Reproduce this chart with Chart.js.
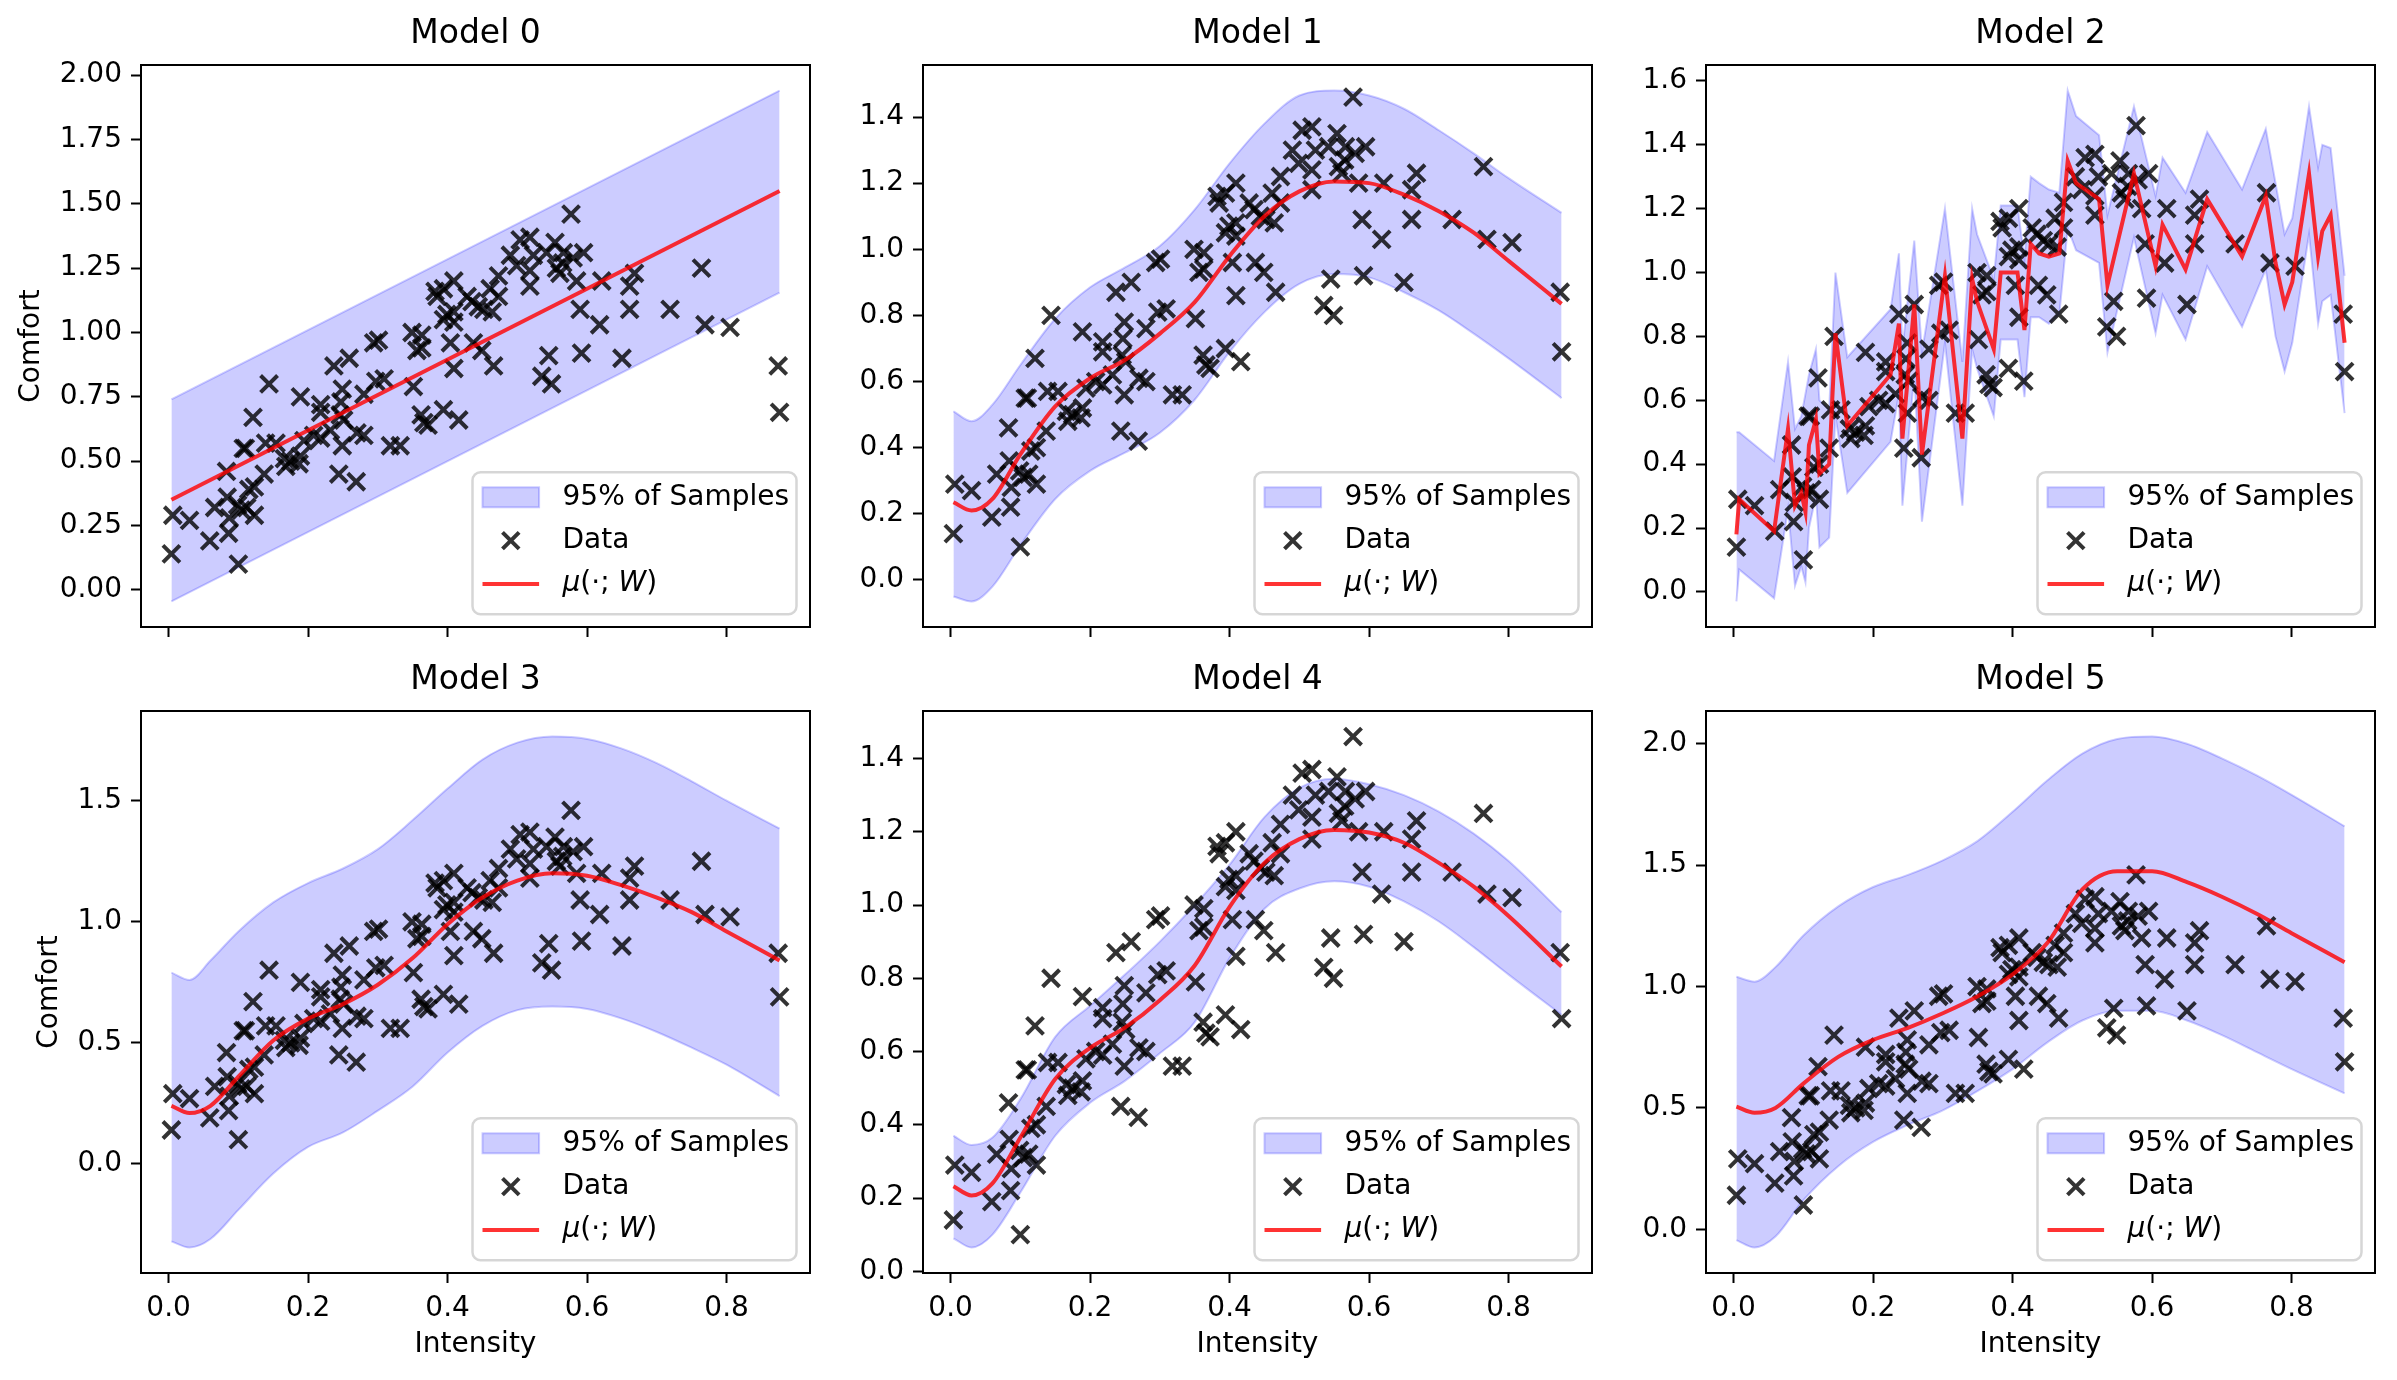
<!DOCTYPE html>
<html lang="en">
<head>
<meta charset="utf-8">
<title>Model comparison</title>
<script src="https://cdn.jsdelivr.net/npm/chart.js@4.4.1/dist/chart.umd.min.js"></script>
<style>
  html, body { margin: 0; padding: 0; background: #fff; }
  body { width: 2397px; height: 1380px; position: relative; overflow: hidden; }
  canvas { position: absolute; }
</style>
</head>
<body>
<script>
// observed data (same in every panel)
const intensity = [0.004, 0.006, 0.030, 0.059, 0.066, 0.084, 0.086, 0.087, 0.099, 0.100,
  0.104, 0.112, 0.115, 0.123, 0.123, 0.137, 0.083, 0.107, 0.110, 0.121,
  0.139, 0.144, 0.154, 0.166, 0.168, 0.175, 0.187, 0.189, 0.194, 0.208,
  0.244, 0.269, 0.249, 0.280, 0.318, 0.332, 0.237, 0.259, 0.297, 0.309,
  0.351, 0.249, 0.280, 0.247, 0.218, 0.189, 0.218, 0.246, 0.251, 0.232,
  0.218, 0.270, 0.362, 0.366, 0.372, 0.394, 0.416, 0.382, 0.394, 0.409,
  0.385, 0.428, 0.435, 0.461, 0.473, 0.518, 0.399, 0.409, 0.394, 0.409,
  0.444, 0.452, 0.464, 0.349, 0.363, 0.301, 0.294, 0.356, 0.363, 0.404,
  0.437, 0.449, 0.409, 0.466, 0.545, 0.535, 0.549, 0.577, 0.504, 0.518,
  0.554, 0.490, 0.523, 0.542, 0.566, 0.595, 0.580, 0.499, 0.518, 0.556,
  0.565, 0.473, 0.561, 0.585, 0.621, 0.668, 0.661, 0.764, 0.590, 0.661,
  0.719, 0.618, 0.769, 0.805, 0.592, 0.650, 0.874, 0.876];
const comfort = [0.14, 0.29, 0.27, 0.19, 0.32, 0.36, 0.22, 0.28, 0.33, 0.10,
  0.31, 0.32, 0.39, 0.29, 0.40, 0.45, 0.46, 0.55, 0.55, 0.67,
  0.57, 0.80, 0.57, 0.51, 0.48, 0.50, 0.49, 0.52, 0.58, 0.60,
  0.45, 0.42, 0.56, 0.60, 0.56, 0.56, 0.87, 0.90, 0.81, 0.82,
  0.79, 0.78, 0.76, 0.73, 0.72, 0.75, 0.69, 0.68, 0.66, 0.62,
  0.59, 0.61, 0.68, 0.65, 0.64, 0.70, 0.66, 1.16, 1.17, 1.20,
  1.14, 1.14, 1.12, 1.17, 1.14, 1.18, 1.07, 1.08, 1.05, 1.04,
  1.10, 1.09, 1.08, 1.00, 0.99, 0.97, 0.96, 0.93, 0.94, 0.96,
  0.96, 0.93, 0.86, 0.87, 0.91, 0.83, 0.80, 1.46, 1.36, 1.37,
  1.35, 1.30, 1.30, 1.31, 1.31, 1.31, 1.29, 1.26, 1.24, 1.25,
  1.27, 1.22, 1.23, 1.20, 1.20, 1.23, 1.18, 1.25, 1.09, 1.09,
  1.09, 1.03, 1.03, 1.02, 0.92, 0.90, 0.87, 0.69];

// prediction grid for the smooth models
const gridX = [0.004, 0.03, 0.06, 0.1, 0.15, 0.2, 0.25, 0.3, 0.35, 0.4,
  0.45, 0.5, 0.55, 0.6, 0.65, 0.7, 0.75, 0.8, 0.876];

// Model 0 (linear)
const model0X = [0.004, 0.876];
const model0Mean = [0.35, 1.55];
const model0Upper = [0.74, 1.94];
const model0Lower = [-0.045, 1.155];

// Model 1
const model1Mean = [0.235, 0.21, 0.245, 0.38, 0.525, 0.61, 0.665, 0.745, 0.84, 0.98,
  1.10, 1.175, 1.205, 1.20, 1.165, 1.115, 1.05, 0.965, 0.835];
const model1Upper = [0.51, 0.48, 0.53, 0.65, 0.79, 0.885, 0.945, 1.01, 1.12, 1.26,
  1.38, 1.465, 1.48, 1.465, 1.425, 1.36, 1.29, 1.215, 1.11];
const model1Lower = [-0.05, -0.065, -0.02, 0.105, 0.245, 0.33, 0.385, 0.445, 0.545, 0.69,
  0.81, 0.895, 0.925, 0.915, 0.87, 0.815, 0.745, 0.67, 0.55];

// Model 2 (jagged, evaluated at its own points)
const model2X = [0.004, 0.008, 0.058, 0.078, 0.088, 0.097, 0.103, 0.108, 0.118, 0.123,
  0.137, 0.146, 0.163, 0.225, 0.237, 0.242, 0.259, 0.270, 0.303, 0.328,
  0.342, 0.349, 0.373, 0.383, 0.407, 0.417, 0.426, 0.438, 0.452, 0.467,
  0.479, 0.491, 0.524, 0.536, 0.574, 0.605, 0.615, 0.648, 0.679, 0.729,
  0.763, 0.777, 0.790, 0.801, 0.825, 0.838, 0.844, 0.856, 0.876];
const model2Mean = [0.18, 0.29, 0.19, 0.51, 0.27, 0.31, 0.25, 0.46, 0.54, 0.37,
  0.40, 0.81, 0.52, 0.68, 0.84, 0.48, 0.90, 0.43, 0.99, 0.48,
  0.98, 0.91, 0.76, 1.00, 1.00, 0.82, 1.09, 1.06, 1.05, 1.06,
  1.35, 1.28, 1.23, 0.96, 1.31, 1.02, 1.15, 1.01, 1.23, 1.05,
  1.24, 1.03, 0.90, 0.97, 1.31, 1.05, 1.13, 1.18, 0.78];
const model2Upper = [0.50, 0.50, 0.41, 0.72, 0.51, 0.55, 0.62, 0.68, 0.76, 0.60,
  0.57, 1.00, 0.735, 0.885, 1.06, 0.76, 1.10, 0.75, 1.20, 0.72,
  1.20, 1.12, 0.98, 1.21, 1.21, 1.04, 1.30, 1.28, 1.26, 1.25,
  1.57, 1.49, 1.43, 1.18, 1.52, 1.24, 1.36, 1.25, 1.44, 1.26,
  1.45, 1.28, 1.12, 1.17, 1.52, 1.33, 1.40, 1.39, 0.99];
const model2Lower = [-0.03, 0.07, -0.02, 0.26, 0.02, 0.08, 0.03, 0.20, 0.30, 0.14,
  0.17, 0.55, 0.31, 0.47, 0.62, 0.27, 0.68, 0.22, 0.78, 0.27,
  0.76, 0.70, 0.55, 0.79, 0.79, 0.61, 0.86, 0.86, 0.84, 0.87,
  1.14, 1.07, 1.03, 0.75, 1.11, 0.81, 0.93, 0.79, 1.02, 0.83,
  1.01, 0.80, 0.69, 0.78, 1.12, 0.84, 0.91, 0.93, 0.56];

// Model 3
const model3Mean = [0.24, 0.21, 0.24, 0.36, 0.51, 0.60, 0.66, 0.74, 0.85, 0.99,
  1.10, 1.17, 1.20, 1.19, 1.15, 1.10, 1.04, 0.96, 0.84];
const model3Upper = [0.79, 0.76, 0.84, 0.96, 1.08, 1.16, 1.22, 1.30, 1.42, 1.55,
  1.67, 1.74, 1.765, 1.755, 1.715, 1.655, 1.58, 1.50, 1.385];
const model3Lower = [-0.32, -0.345, -0.31, -0.19, -0.04, 0.07, 0.13, 0.22, 0.32, 0.46,
  0.57, 0.635, 0.65, 0.64, 0.60, 0.545, 0.48, 0.41, 0.28];

// Model 4
const model4Mean = [0.232, 0.207, 0.24, 0.365, 0.525, 0.61, 0.665, 0.74, 0.835, 0.995,
  1.115, 1.18, 1.205, 1.198, 1.17, 1.115, 1.05, 0.97, 0.832];
const model4Upper = [0.37, 0.345, 0.365, 0.47, 0.64, 0.725, 0.81, 0.90, 1.00, 1.11,
  1.24, 1.32, 1.345, 1.33, 1.30, 1.255, 1.195, 1.12, 0.98];
const model4Lower = [0.09, 0.065, 0.10, 0.215, 0.37, 0.46, 0.52, 0.595, 0.68, 0.855,
  0.99, 1.045, 1.065, 1.05, 1.01, 0.955, 0.885, 0.81, 0.70];

// Model 5
const model5Mean = [0.505, 0.48, 0.50, 0.60, 0.71, 0.78, 0.83, 0.89, 0.96, 1.05,
  1.18, 1.40, 1.475, 1.475, 1.43, 1.37, 1.30, 1.22, 1.10];
const model5Upper = [1.04, 1.02, 1.08, 1.21, 1.33, 1.41, 1.46, 1.52, 1.60, 1.72,
  1.85, 1.96, 2.02, 2.03, 2.0, 1.94, 1.87, 1.79, 1.66];
const model5Lower = [-0.045, -0.075, -0.03, 0.12, 0.26, 0.36, 0.43, 0.49, 0.57, 0.66,
  0.77, 0.86, 0.90, 0.90, 0.86, 0.80, 0.73, 0.66, 0.56];

const panels = [
  { title: 'Model 0', x: model0X, mean: model0Mean, upper: model0Upper, lower: model0Lower, step: 0.25, dec: 2, smooth: false },
  { title: 'Model 1', x: gridX, mean: model1Mean, upper: model1Upper, lower: model1Lower, step: 0.2, dec: 1, smooth: true },
  { title: 'Model 2', x: model2X, mean: model2Mean, upper: model2Upper, lower: model2Lower, step: 0.2, dec: 1, smooth: false },
  { title: 'Model 3', x: gridX, mean: model3Mean, upper: model3Upper, lower: model3Lower, step: 0.5, dec: 1, smooth: true },
  { title: 'Model 4', x: gridX, mean: model4Mean, upper: model4Upper, lower: model4Lower, step: 0.2, dec: 1, smooth: true },
  { title: 'Model 5', x: gridX, mean: model5Mean, upper: model5Upper, lower: model5Lower, step: 0.5, dec: 1, smooth: true },
];

const FONT = '"DejaVu Sans", "Liberation Sans", sans-serif';
const plotLefts = [141, 923, 1706];
const plotTops = [64.5, 711];
const plotW = 670, plotH = 562;
const padL = 130, padT = 64, padR = 15, padB = 110;

function toPoints(xs, ys) {
  return xs.map((x, i) => ({ x, y: ys[i] }));
}

function padded(values) {
  const lo = Math.min(...values), hi = Math.max(...values);
  const m = (hi - lo) * 0.05;
  return [lo - m, hi + m];
}

const xLim = padded(intensity);
const scatterPts = toPoints(intensity, comfort);

function drawCross(ctx, x, y, h) {
  ctx.beginPath();
  ctx.moveTo(x - h, y - h); ctx.lineTo(x + h, y + h);
  ctx.moveTo(x - h, y + h); ctx.lineTo(x + h, y - h);
  ctx.stroke();
}

// frame, title, axis titles and the legend box
const panelDeco = {
  id: 'panelDeco',
  afterDraw(chart, args, opts) {
    const ctx = chart.ctx;
    const a = chart.chartArea;
    ctx.save();
    ctx.strokeStyle = '#000';
    ctx.lineWidth = 2;
    ctx.strokeRect(a.left, a.top, a.right - a.left, a.bottom - a.top);

    ctx.fillStyle = '#000';
    ctx.font = '33px ' + FONT;
    ctx.textAlign = 'center';
    ctx.textBaseline = 'middle';
    ctx.fillText(opts.title, (a.left + a.right) / 2, a.top - 31);

    ctx.font = '28px ' + FONT;
    if (opts.yTitle) {
      let maxW = 0;
      chart.scales.y.ticks.forEach(t => { maxW = Math.max(maxW, ctx.measureText(t.label).width); });
      const cx = a.left - 19.5 - maxW - 11 - 16;
      ctx.save();
      ctx.translate(cx, (a.top + a.bottom) / 2);
      ctx.rotate(-Math.PI / 2);
      ctx.fillText('Comfort', 0, 0);
      ctx.restore();
    }
    if (opts.xTitle) {
      ctx.fillText('Intensity', (a.left + a.right) / 2, a.bottom + 72);
    }

    // legend
    const bw = 324, bh = 142;
    const bx = a.right - 13.5 - bw, by = a.bottom - 12.7 - bh;
    ctx.beginPath();
    ctx.roundRect(bx, by, bw, bh, 8);
    ctx.fillStyle = 'rgba(255,255,255,0.8)';
    ctx.fill();
    ctx.strokeStyle = 'rgba(204,204,204,0.8)';
    ctx.lineWidth = 2.5;
    ctx.stroke();

    const rows = [by + 25, by + 68.3, by + 111.6];
    ctx.fillStyle = 'rgba(0,0,255,0.2)';
    ctx.fillRect(bx + 10, rows[0] - 10, 56.6, 20);
    ctx.strokeStyle = 'rgba(0,0,255,0.2)';
    ctx.lineWidth = 2;
    ctx.strokeRect(bx + 10, rows[0] - 10, 56.6, 20);

    ctx.strokeStyle = 'rgba(0,0,0,0.8)';
    ctx.lineWidth = 4;
    drawCross(ctx, bx + 38.3, rows[1], 8.3);

    ctx.strokeStyle = 'rgba(255,0,0,0.8)';
    ctx.lineWidth = 4;
    ctx.beginPath();
    ctx.moveTo(bx + 10, rows[2]); ctx.lineTo(bx + 66.6, rows[2]);
    ctx.stroke();

    ctx.fillStyle = '#000';
    ctx.textAlign = 'left';
    const tx = bx + 90;
    ctx.fillText('95% of Samples', tx, rows[0]);
    ctx.fillText('Data', tx, rows[1]);
    const parts = [['\u03bc', true], ['(\u00b7; ', false], ['W', true], [')', false]];
    let px = tx;
    parts.forEach(([s, it]) => {
      ctx.font = (it ? 'italic ' : '') + '28px ' + FONT;
      ctx.fillText(s, px, rows[2]);
      px += ctx.measureText(s).width;
    });
    ctx.restore();
  }
};

panels.forEach((p, i) => {
  const row = Math.floor(i / 3), col = i % 3;
  const canvas = document.createElement('canvas');
  canvas.width = padL + plotW + padR;
  canvas.height = padT + plotH + padB;
  canvas.style.left = (plotLefts[col] - padL) + 'px';
  canvas.style.top = (plotTops[row] - padT) + 'px';
  document.body.appendChild(canvas);

  const yLim = padded([...comfort, ...p.upper, ...p.lower, ...p.mean]);
  const curve = p.smooth ? { tension: 0.4, cubicInterpolationMode: 'monotone' } : { tension: 0 };
  const tickFont = { family: FONT, size: 28 };

  new Chart(canvas, {
    type: 'scatter',
    data: {
      datasets: [
        Object.assign({
          type: 'line', label: '95% of Samples', data: toPoints(p.x, p.upper),
          borderColor: 'rgba(0,0,255,0.2)', backgroundColor: 'rgba(0,0,255,0.2)',
          borderWidth: 2, pointRadius: 0, fill: '+1', order: 2
        }, curve),
        Object.assign({
          type: 'line', label: 'lower', data: toPoints(p.x, p.lower),
          borderColor: 'rgba(0,0,255,0.2)', borderWidth: 2, pointRadius: 0, fill: false, order: 3
        }, curve),
        {
          type: 'scatter', label: 'Data', data: scatterPts,
          pointStyle: 'crossRot', pointRadius: 12, borderWidth: 4,
          borderColor: 'rgba(0,0,0,0.8)', backgroundColor: 'rgba(0,0,0,0.8)', order: 1
        },
        Object.assign({
          type: 'line', label: 'mean', data: toPoints(p.x, p.mean),
          borderColor: 'rgba(255,0,0,0.8)', borderWidth: 4, pointRadius: 0, fill: false, order: 0
        }, curve),
      ]
    },
    options: {
      responsive: false,
      animation: false,
      devicePixelRatio: 1,
      events: [],
      layout: { padding: { top: padT, right: padR, left: 0, bottom: 0 } },
      plugins: {
        legend: { display: false },
        tooltip: { enabled: false },
        panelDeco: { title: p.title, yTitle: col === 0, xTitle: row === 1 }
      },
      scales: {
        x: {
          type: 'linear', min: xLim[0], max: xLim[1],
          afterFit: s => { s.height = padB; },
          border: { display: false },
          grid: { drawOnChartArea: false, tickLength: 10, tickWidth: 2, tickColor: '#000' },
          ticks: {
            display: row === 1, stepSize: 0.2, includeBounds: false, autoSkip: false, maxRotation: 0,
            padding: 9, color: '#000', font: tickFont, callback: v => v.toFixed(1)
          }
        },
        y: {
          type: 'linear', min: yLim[0], max: yLim[1],
          afterFit: s => { s.width = padL; },
          border: { display: false },
          grid: { drawOnChartArea: false, tickLength: 10, tickWidth: 2, tickColor: '#000' },
          ticks: {
            stepSize: p.step, includeBounds: false, autoSkip: false,
            padding: 9, color: '#000', font: tickFont, callback: v => v.toFixed(p.dec)
          }
        }
      }
    },
    plugins: [panelDeco]
  });
});
</script>
</body>
</html>
